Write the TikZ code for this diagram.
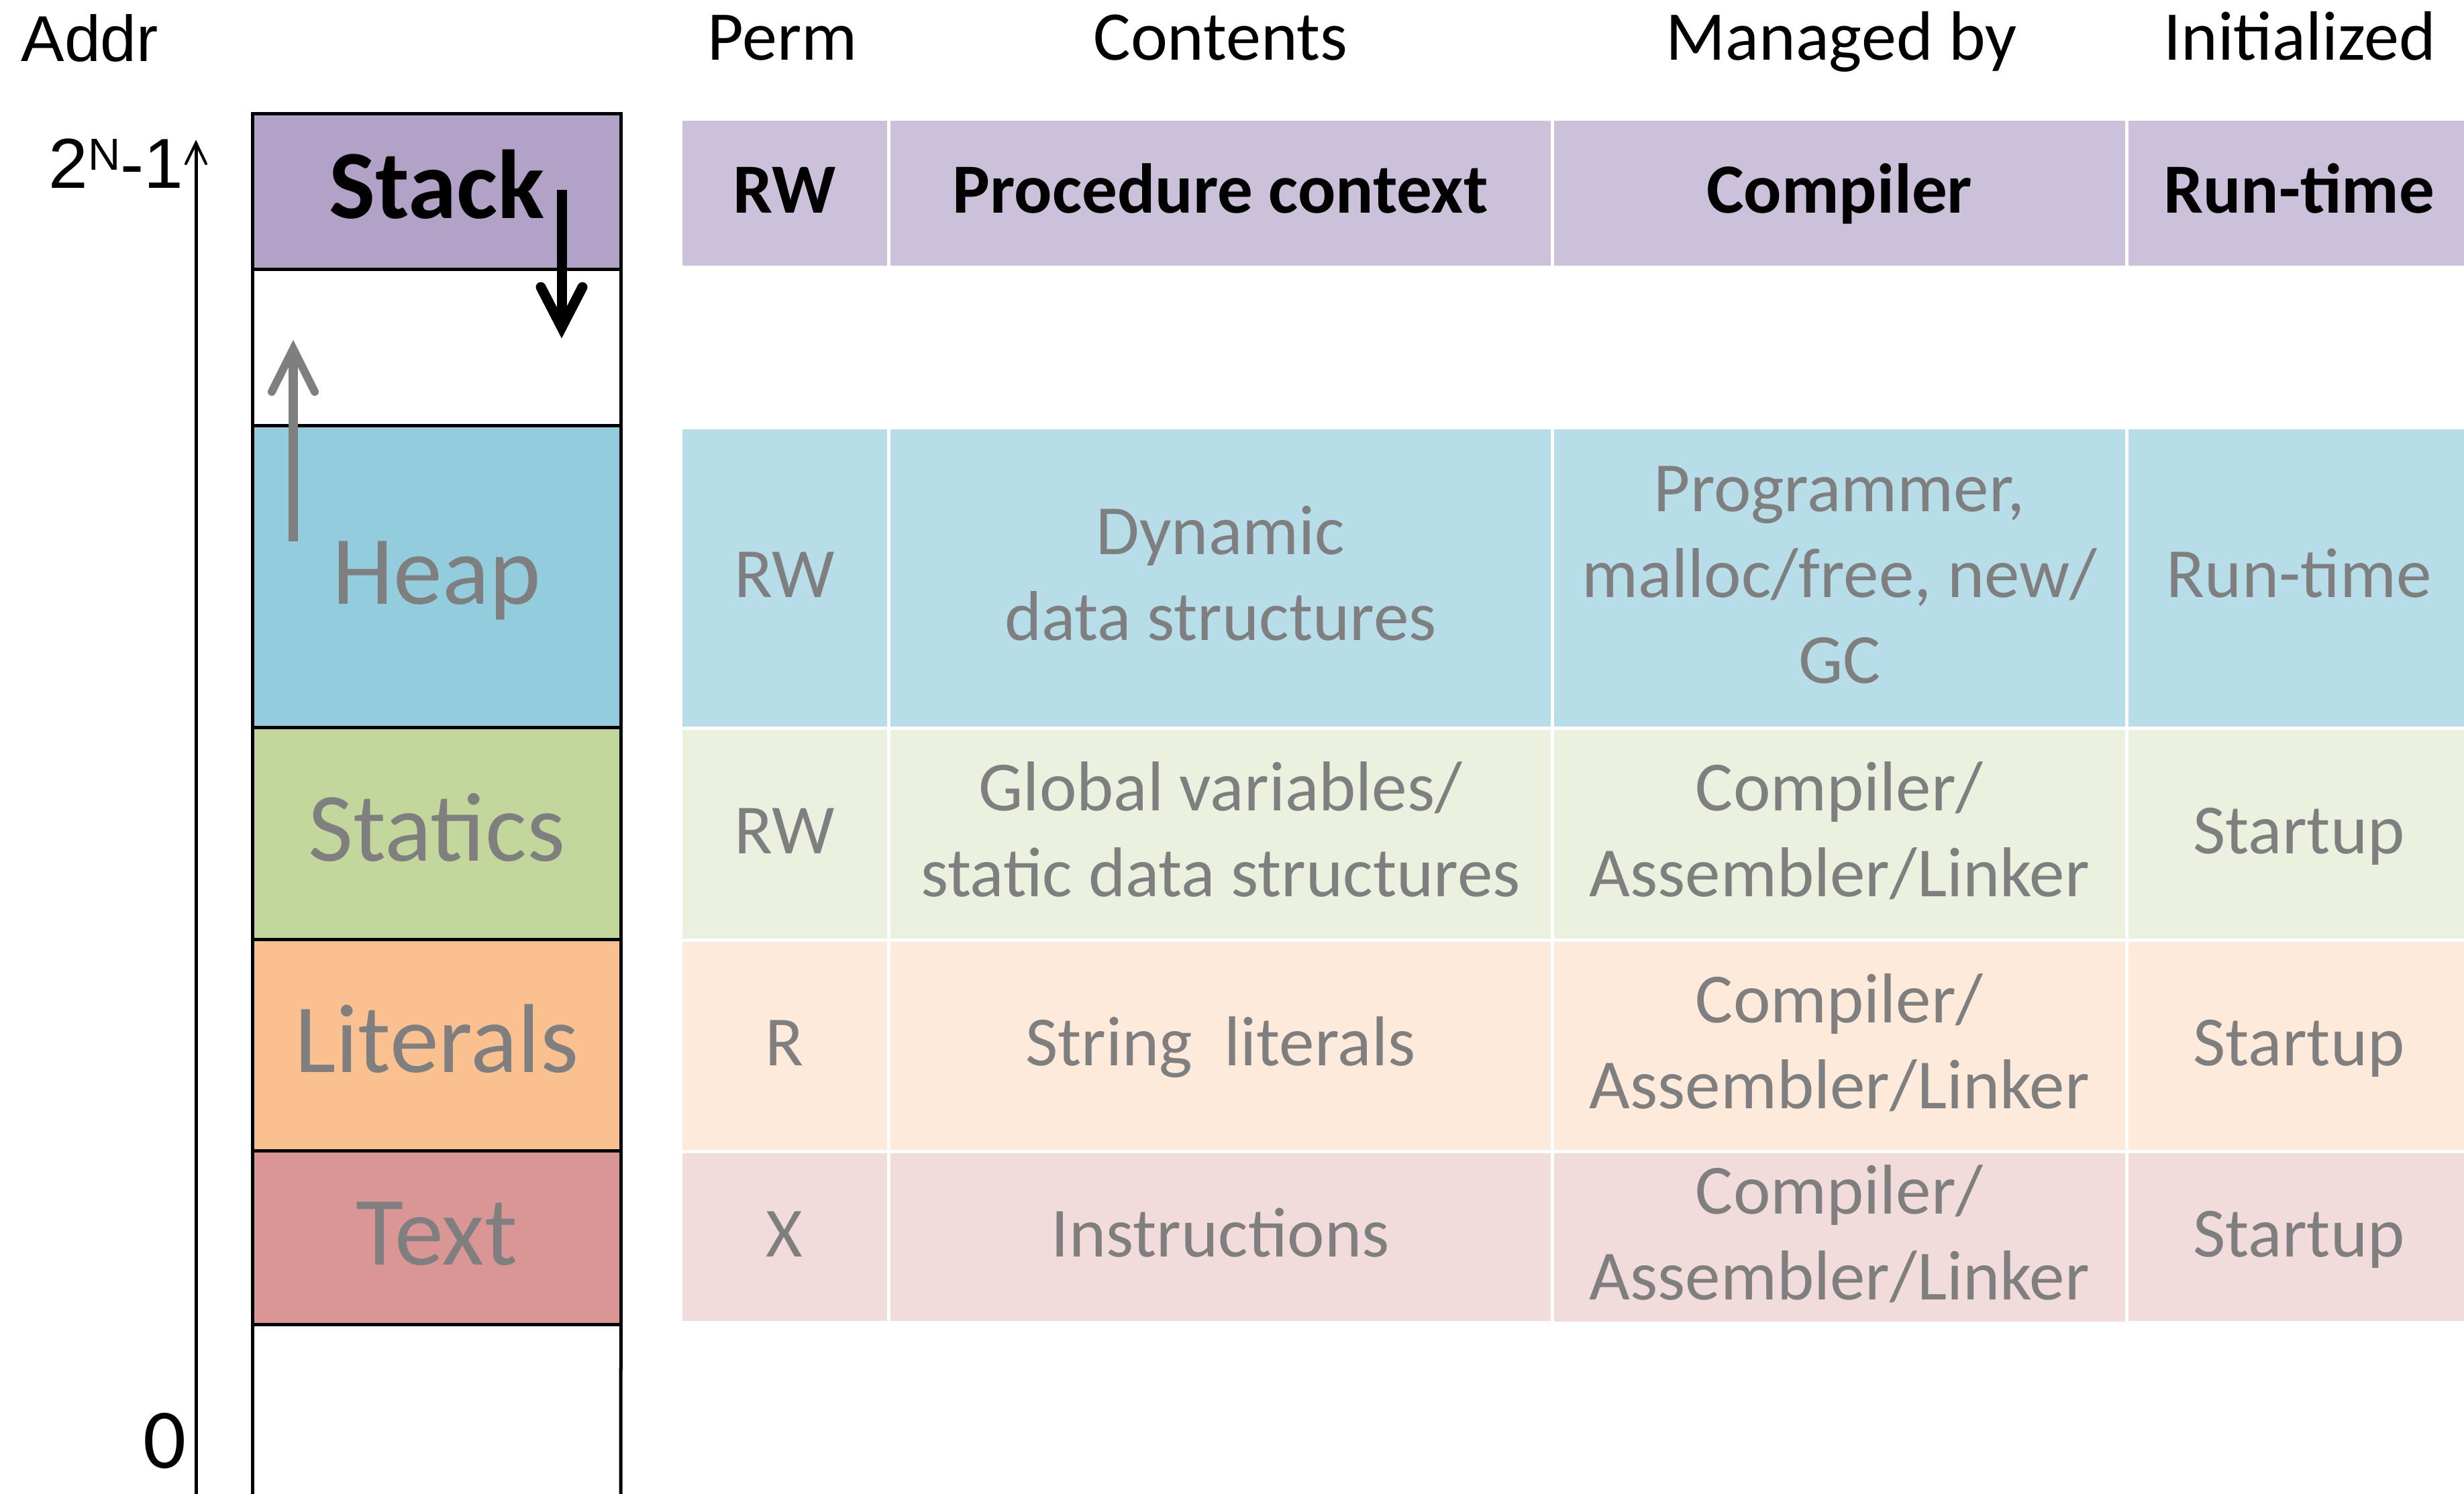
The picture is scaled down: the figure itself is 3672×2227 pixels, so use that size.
\documentclass[tikz,border=0pt]{standalone}
\usepackage{fontspec}
\setmainfont{Carlito}
\newfontfamily\arialf{Liberation Sans}
\definecolor{memStack}{HTML}{B2A2C7}
\definecolor{memHeap}{HTML}{93CDDD}
\definecolor{memStat}{HTML}{C3D69B}
\definecolor{memLit}{HTML}{FAC090}
\definecolor{memText}{HTML}{D99694}
\definecolor{tabStack}{HTML}{CCC1DA}
\definecolor{tabHeap}{HTML}{B7DEE8}
\definecolor{tabStat}{HTML}{EBF1DE}
\definecolor{tabLit}{HTML}{FDEADA}
\definecolor{tabText}{HTML}{F2DCDB}
\definecolor{txtgray}{HTML}{7F7F7F}
\newcommand{\lstr}{\rule[-0.27\baselineskip]{0pt}{\baselineskip}}
\begin{document}
\begin{tikzpicture}[x=0.01cm,y=-0.01cm,
  mem/.style={draw=black, line width=0.05cm, inner sep=0pt, outer sep=0pt, anchor=north west,
    minimum width=5.49cm, font=\fontsize{41.5}{50.6}\selectfont, text=txtgray},
  tab/.style={draw=white, line width=0.05cm, inner sep=0pt, outer sep=0pt, anchor=north west,
    align=center, font=\fontsize{29.9}{36.4}\selectfont, text=txtgray},
  tabh/.style={tab, fill=tabStack, text=black, font=\fontsize{29.9}{36.4}\selectfont\bfseries},
  hdr/.style={anchor=base, inner sep=0pt, font=\fontsize{29.6}{36}\selectfont},
  c1/.style={minimum width=3.10cm},
  c2/.style={minimum width=9.89cm},
  c3/.style={minimum width=8.56cm},
  c4/.style={minimum width=5.14cm},
  axisline/.style={draw=black, line width=0.05cm},
  headline/.style={draw=black, line width=0.04cm, line cap=round, line join=miter},
  growblack/.style={draw=black, line width=0.15cm, line cap=butt},
  growblackhead/.style={draw=black, line width=0.15cm, line cap=round, line join=miter},
  growgray/.style={draw=txtgray, line width=0.14cm, line cap=butt},
  growgrayhead/.style={draw=txtgray, line width=0.12cm, line cap=round, line join=miter}
]
\useasboundingbox (0,0) rectangle (3672,2227);
\fill[white] (0,0) rectangle (3672,2227);

% ---- headers
\node[anchor=base west, inner sep=0pt, font=\arialf\fontsize{27.5}{33}\selectfont] (addr) at (31,91) {Addr};
\node[hdr] (hperm) at (1166,90) {Perm};
\node[hdr] (hcont) at (1819,90) {Contents};
\node[hdr] (hman) at (2744,90) {Managed by};
\node[hdr] (hinit) at (3427,90) {Initialized};

% ---- address axis
\node[anchor=base west, inner sep=0pt, font=\arialf\fontsize{30}{36}\selectfont] (top) at (72,280)
  {2\raisebox{7.4pt}{\fontsize{19}{19}\selectfont N}-1};
\node[anchor=base, inner sep=0pt, font=\fontsize{36}{44}\selectfont] (zero) at (246,2188) {0};
\coordinate (axb) at (292,2240);
\coordinate (axt) at (292,213);
\coordinate (axl) at (277,244);
\coordinate (axr) at (307,244);
\draw[axisline] (axb) -- (axt);
\draw[headline] (axl) -- (axt) -- (axr);

% ---- memory column
\node[mem, fill=memStack, minimum height=2.32cm, text=black, font=\fontsize{41.5}{50.6}\selectfont\bfseries] (mstack) at (376,169) {\lstr Stack};
\node[mem, fill=white, minimum height=2.33cm] (mgap) at (376,401) {};
\node[mem, fill=memHeap, minimum height=4.50cm] (mheap) at (376,634) {\lstr Heap};
\node[mem, fill=memStat, minimum height=3.16cm] (mstat) at (376,1084) {\lstr Statics};
\node[mem, fill=memLit, minimum height=3.15cm] (mlit) at (376,1400) {\lstr Literals};
\node[mem, fill=memText, minimum height=2.59cm] (mtext) at (376,1715) {\lstr Text};
\coordinate (bl) at (376,2240);
\coordinate (br) at (925,2240);
\draw[axisline] (mtext.south west) -- (bl);
\draw[axisline] (mtext.south east) -- (br);

% ---- growth arrows
\coordinate (sa0) at (837,283);
\coordinate (sa1) at (837,488);
\coordinate (sal) at (806,428);
\coordinate (sar) at (868,428);
\draw[growblack] (sa0) -- (sa1);
\draw[growblackhead] (sal) -- (sa1) -- (sar);
\coordinate (ha0) at (437,807);
\coordinate (ha1) at (437,520);
\coordinate (hal) at (405,584);
\coordinate (har) at (469,584);
\draw[growgray] (ha0) -- (ha1);
\draw[growgrayhead] (hal) -- (ha1) -- (har);

% ---- table: header row (stack)
\node[tabh, c1, minimum height=2.21cm] (s1) at (1014,177) {\lstr RW};
\node[tabh, c2, minimum height=2.21cm] (s2) at (1324,177) {\lstr Procedure context};
\node[tabh, c3, minimum height=2.21cm] (s3) at (2313,177) {\lstr Compiler};
\node[tabh, c4, minimum height=2.21cm] (s4) at (3169,177) {\lstr Run-time};

% heap row
\node[tab, c1, fill=tabHeap, minimum height=4.48cm] (h1) at (1014,637) {\lstr RW};
\node[tab, c2, fill=tabHeap, minimum height=4.48cm] (h2) at (1324,637) {\lstr Dynamic\\\lstr data structures};
\node[tab, c3, fill=tabHeap, minimum height=4.48cm] (h3) at (2313,637) {\lstr Programmer,\\\lstr malloc/free, new/\\\lstr GC};
\node[tab, c4, fill=tabHeap, minimum height=4.48cm] (h4) at (3169,637) {\lstr Run-time};

% statics row
\node[tab, c1, fill=tabStat, minimum height=3.16cm] (t1) at (1014,1085) {\lstr RW};
\node[tab, c2, fill=tabStat, minimum height=3.16cm] (t2) at (1324,1085) {\lstr Global variables/\\\lstr static data structures};
\node[tab, c3, fill=tabStat, minimum height=3.16cm] (t3) at (2313,1085) {\lstr Compiler/\\\lstr Assembler/Linker};
\node[tab, c4, fill=tabStat, minimum height=3.16cm] (t4) at (3169,1085) {\lstr Startup};

% literals row
\node[tab, c1, fill=tabLit, minimum height=3.15cm] (l1) at (1014,1401) {\lstr R};
\node[tab, c2, fill=tabLit, minimum height=3.15cm] (l2) at (1324,1401) {\lstr String\ \ literals};
\node[tab, c3, fill=tabLit, minimum height=3.15cm] (l3) at (2313,1401) {\lstr Compiler/\\\lstr Assembler/Linker};
\node[tab, c4, fill=tabLit, minimum height=3.15cm] (l4) at (3169,1401) {\lstr Startup};

% text row
\node[tab, c1, fill=tabText, minimum height=2.55cm] (x1) at (1014,1716) {\lstr X};
\node[tab, c2, fill=tabText, minimum height=2.55cm] (x2) at (1324,1716) {\lstr Instructions};
\node[tab, c3, fill=tabText, minimum height=2.55cm] (x3) at (2313,1716) {\lstr Compiler/\\\lstr Assembler/Linker};
\node[tab, c4, fill=tabText, minimum height=2.55cm] (x4) at (3169,1716) {\lstr Startup};
\end{tikzpicture}
\end{document}
